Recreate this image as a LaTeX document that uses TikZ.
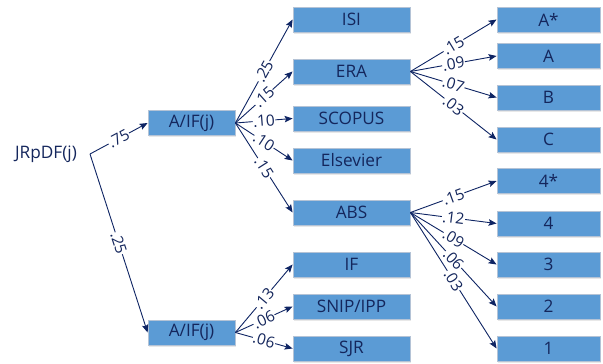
\documentclass[tikz,border=0pt]{standalone}
\usepackage{fontspec}
\setmainfont{Open Sans}
\usetikzlibrary{arrows.meta,shadows}
\definecolor{boxfill}{HTML}{5B9BD5}
\definecolor{boxline}{HTML}{B4C3D6}
\definecolor{ink}{HTML}{14265C}
\definecolor{wire}{HTML}{0E2463}
\tikzset{
  box/.style={draw=boxline, line width=0.8pt, fill=boxfill, minimum height=25pt, inner sep=0pt,
    text=ink, font=\fontsize{17.2}{19}\selectfont,
    drop shadow={opacity=0.18, shadow xshift=1pt, shadow yshift=-1.5pt}},
  midbox/.style={box, minimum width=117pt},
  rbox/.style={box, minimum width=103pt},
  lbox/.style={box, minimum width=87pt},
  edge/.style={draw=wire, line width=0.9pt, -{Stealth[length=8pt,width=6.5pt,inset=1.5pt]}},
  lab/.style={sloped, fill=white, inner sep=0.5pt, text=ink, font=\fontsize{15.5}{17}\selectfont, pos=0.5}
}
\begin{document}
\begin{tikzpicture}[x=1pt,y=-1pt]
\useasboundingbox (0,0) rectangle (603,364);
\node[text=ink, font=\fontsize{17.2}{19}\selectfont, inner sep=0pt] (jr) at (46,154) {JRpDF(j)};
\coordinate (src) at (90,154);
\node[lbox] (a1) at (191.5,123) {A/IF(j)};
\node[lbox] (a2) at (191.5,332.5) {A/IF(j)};
\node[midbox] (isi) at (351.5,19.5) {ISI};
\node[midbox] (era) at (351.5,71.5) {ERA};
\node[midbox] (scopus) at (351.5,118.5) {SCOPUS};
\node[midbox] (els) at (351.5,160.5) {Elsevier};
\node[midbox] (abs) at (351.5,212.5) {ABS};
\node[midbox] (if) at (351.5,264.5) {IF};
\node[midbox] (snip) at (351.5,306.5) {SNIP/IPP};
\node[midbox] (sjr) at (351.5,348.5) {SJR};
\node[rbox] (as) at (548.5,19.5) {A*};
\node[rbox] (ra) at (548.5,56) {A};
\node[rbox] (rb) at (548.5,97.5) {B};
\node[rbox] (rc) at (548.5,139.5) {C};
\node[rbox] (f4s) at (548.5,181) {4*};
\node[rbox] (f4) at (548.5,223.5) {4};
\node[rbox] (f3) at (548.5,264.5) {3};
\node[rbox] (f2) at (548.5,306.5) {2};
\node[rbox] (f1) at (548.5,348.5) {1};
\draw[edge] (src) -- node[lab]{.75} (a1.west);
\draw[edge] (src) -- node[lab]{.25} (a2.west);
\draw[edge] (a1.east) -- node[lab]{.25} (isi.west);
\draw[edge] (a1.east) -- node[lab]{.15} (era.west);
\draw[edge] (a1.east) -- node[lab]{.10} (scopus.west);
\draw[edge] (a1.east) -- node[lab]{.10} (els.west);
\draw[edge] (a1.east) -- node[lab]{.15} (abs.west);
\draw[edge] (a2.east) -- node[lab]{.13} (if.west);
\draw[edge] (a2.east) -- node[lab]{.06} (snip.west);
\draw[edge] (a2.east) -- node[lab]{.06} (sjr.west);
\draw[edge] (era.east) -- node[lab]{.15} (as.west);
\draw[edge] (era.east) -- node[lab]{.09} (ra.west);
\draw[edge] (era.east) -- node[lab]{.07} (rb.west);
\draw[edge] (era.east) -- node[lab]{.03} (rc.west);
\draw[edge] (abs.east) -- node[lab]{.15} (f4s.west);
\draw[edge] (abs.east) -- node[lab]{.12} (f4.west);
\draw[edge] (abs.east) -- node[lab]{.09} (f3.west);
\draw[edge] (abs.east) -- node[lab]{.06} (f2.west);
\draw[edge] (abs.east) -- node[lab]{.03} (f1.west);
\end{tikzpicture}
\end{document}
